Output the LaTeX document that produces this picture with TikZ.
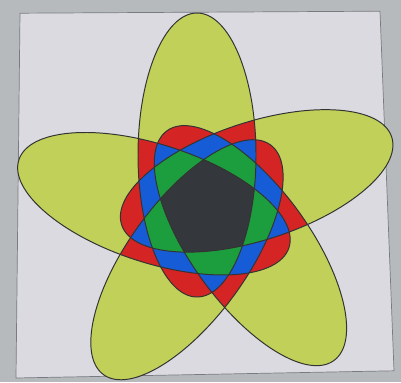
\documentclass[tikz,border=0pt]{standalone}
\usepackage{tikz}
\definecolor{outergray}{RGB}{182,186,188}
\definecolor{innergray}{RGB}{218,218,224}
\definecolor{framegray}{RGB}{120,124,130}
\definecolor{petalc}{RGB}{192,208,88}
\definecolor{redc}{RGB}{212,36,36}
\definecolor{bluec}{RGB}{22,92,214}
\definecolor{greenc}{RGB}{28,158,62}
\definecolor{darkc}{RGB}{52,56,60}
\tikzset{
  paper/.style={fill=innergray,draw=framegray,line width=.5pt},
  one/.style={fill=petalc},
  two/.style={fill=redc},
  three/.style={fill=bluec},
  four/.style={fill=greenc},
  five/.style={fill=darkc},
  rim/.style={draw=black!80,line width=.7pt},
  petal/.style={rotate=72*(#1)}
}
\newcommand\petalpath{(-0.3,1.35) ellipse [x radius=1.475, y radius=3.55]}

\begin{document}
\begin{tikzpicture}
  \useasboundingbox[fill=outergray] (0,0) rectangle (10.025,9.55);
  % screen frame (photo is slightly skewed)
  \coordinate (tl) at (0.5,9.22);
  \coordinate (tr) at (9.5,9.27);
  \coordinate (br) at (9.85,0.28);
  \coordinate (bl) at (0.4,0.1);
  \path[paper] (tl) -- (tr) -- (br) -- (bl) -- cycle;
  \begin{scope}[shift={(5.225,4.325)}]
    % one set
    \foreach \m in {0,...,4}
      \fill[one,petal=\m] \petalpath;
    % two sets
    \foreach \m in {0,...,4}
      \foreach \d in {1,2}{
        \begin{scope}
          \clip[petal=\m] \petalpath;
          \fill[two,petal=\m+\d] \petalpath;
        \end{scope}}
    % three sets
    \foreach \m in {0,...,4}
      \foreach \d in {1,2}{
        \begin{scope}
          \clip[petal=\m] \petalpath;
          \clip[petal=\m+1] \petalpath;
          \fill[three,petal=\m+1+\d] \petalpath;
        \end{scope}}
    % four sets
    \foreach \m in {0,...,4}{
      \begin{scope}
        \clip[petal=\m] \petalpath;
        \clip[petal=\m+1] \petalpath;
        \clip[petal=\m+2] \petalpath;
        \fill[four,petal=\m+3] \petalpath;
      \end{scope}}
    % all five
    \begin{scope}
      \clip[petal=0] \petalpath;
      \clip[petal=1] \petalpath;
      \clip[petal=2] \petalpath;
      \clip[petal=3] \petalpath;
      \fill[five,petal=4] \petalpath;
    \end{scope}
    \foreach \m in {0,...,4}
      \draw[rim,petal=\m] \petalpath;
  \end{scope}
\end{tikzpicture}
\end{document}
